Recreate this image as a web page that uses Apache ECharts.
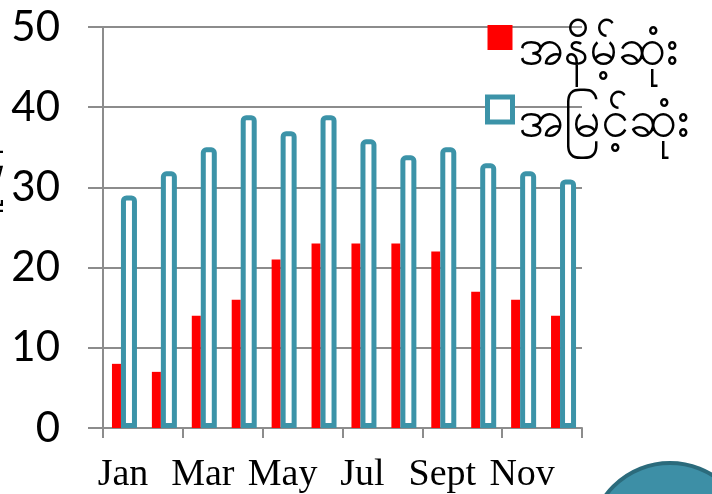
<!DOCTYPE html>
<html>
<head>
<meta charset="utf-8">
<script src="https://cdn.jsdelivr.net/npm/echarts@6/dist/echarts.min.js"></script>
<style>
  html, body { margin: 0; padding: 0; background: #fff; }
  #main { width: 712px; height: 494px; }
</style>
</head>
<body>
<div id="main"></div>
<script>
// data
var months = ['Jan', 'Feb', 'Mar', 'Apr', 'May', 'Jun', 'Jul', 'Aug', 'Sept', 'Oct', 'Nov', 'Dec'];
var lowName = 'အနိမ့်ဆုံး';
var highName = 'အမြင့်ဆုံး';
var axisTitle = 'အပူချိန်';
var lowTemp = [8, 7, 14, 16, 21, 23, 23, 23, 22, 17, 16, 14];
var highTemp = [29, 32, 35, 39, 37, 39, 36, 34, 35, 33, 32, 31];
var yMin = 0, yMax = 50, yStep = 10;

var red = '#ff0000';
var blue = '#3c93a8';
var gray = '#8c8c8c';

var myChart = echarts.init(document.getElementById('main'));
var option = {
    animation: false,
    backgroundColor: '#fff',
    grid: {
        left: 103,
        right: 130,
        top: 27,
        bottom: 66
    },
    legend: {
        orient: 'vertical',
        left: 485,
        top: 0,
        padding: 0,
        itemWidth: 25,
        itemHeight: 25,
        itemGap: -3,
        icon: 'rect',
        // empty first line pushes the name below the icon, as in the original
        formatter: function (name) {
            return '\n' + name;
        },
        textStyle: {
            fontSize: 50,
            lineHeight: 25,
            color: '#000'
        },
        data: [
            { name: lowName, itemStyle: { color: red, borderWidth: 0 } },
            { name: highName, itemStyle: { color: '#fff', borderColor: blue, borderWidth: 5 } }
        ]
    },
    xAxis: {
        type: 'category',
        data: months,
        axisLine: { lineStyle: { color: gray, width: 2 } },
        axisTick: { show: true, length: 10, lineStyle: { color: gray, width: 2 } },
        axisLabel: {
            interval: 1,
            margin: 28,
            fontSize: 38,
            color: '#000',
            fontFamily: 'Liberation Serif, serif'
        }
    },
    yAxis: {
        type: 'value',
        min: yMin,
        max: yMax,
        interval: yStep,
        axisLine: { show: true, lineStyle: { color: gray, width: 2 } },
        axisTick: { show: true, length: 15, lineStyle: { color: gray, width: 2 } },
        axisLabel: {
            margin: 43,
            fontSize: 42,
            color: '#000',
            fontFamily: 'Lato, sans-serif'
        },
        splitLine: { show: true, lineStyle: { color: gray, width: 2 } }
    },
    series: [
        {
            // empty spacer so the bar pair sits like the original
            name: 'spacer',
            type: 'bar',
            barWidth: 3,
            barGap: 0,
            silent: true,
            data: []
        },
        {
            name: lowName,
            type: 'bar',
            barWidth: 9,
            barGap: 0,
            itemStyle: { color: red },
            data: lowTemp
        },
        {
            name: highName,
            type: 'bar',
            barWidth: 16,
            itemStyle: {
                color: '#fff',
                borderColor: blue,
                borderWidth: 5,
                borderRadius: [3, 3, 0, 0]
            },
            data: highTemp
        }
    ],
    graphic: [
        {
            type: 'text',
            x: -29,
            y: 200,
            rotation: Math.PI / 2,
            style: {
                text: axisTitle,
                fontSize: 44,
                fill: '#000',
                align: 'center',
                verticalAlign: 'middle'
            }
        },
        {
            type: 'circle',
            shape: { cx: 670, cy: 543, r: 80 },
            style: { fill: '#3d8fa6', stroke: '#2b6b7c', lineWidth: 4 }
        }
    ]
};
myChart.setOption(option);
</script>
</body>
</html>
